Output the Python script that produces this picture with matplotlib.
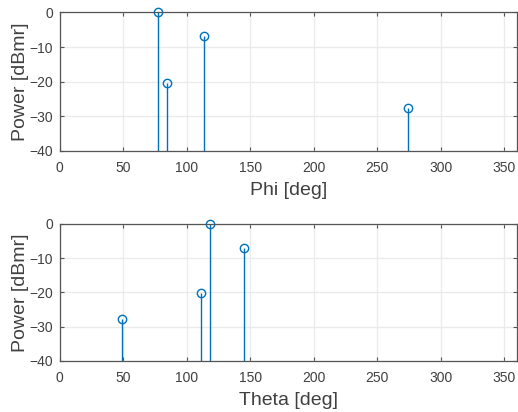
import matplotlib
matplotlib.use("Agg")
import matplotlib.pyplot as plt

plt.rcParams["font.family"] = ["Liberation Sans", "DejaVu Sans"]

# top panel: power vs phi
phi_deg = [77.5, 84.1, 113.2, 274.1]
phi_pow = [0.0, -20.3, -6.9, -27.7]
# bottom panel: power vs theta
theta_deg = [49.2, 111.6, 118.6, 144.7]
theta_pow = [-27.8, -20.3, 0.0, -7.0]

XTICKS = [0, 50, 100, 150, 200, 250, 300, 350]
YTICKS = [-40, -30, -20, -10, 0]
BLUE = "#0072BD"
TXT = "#404040"

fig = plt.figure(figsize=(5.18, 4.12), dpi=100)
ax1 = fig.add_axes([0.1153, 0.6335, 0.8827, 0.3365])
ax2 = fig.add_axes([0.1153, 0.1238, 0.8827, 0.3332])

for ax, x, y, lab in [(ax1, phi_deg, phi_pow, "Phi [deg]"),
                      (ax2, theta_deg, theta_pow, "Theta [deg]")]:
    ml, sl, bl = ax.stem(x, y, bottom=-40)
    plt.setp(sl, color=BLUE, lw=1.0)
    plt.setp(ml, color=BLUE, marker="o", markerfacecolor="none", markersize=6, mew=1.0)
    bl.set_visible(False)
    ml.set_clip_on(False)
    ax.set_xlim(0, 360)
    ax.set_ylim(-40, 0)
    ax.set_xticks(XTICKS)
    ax.set_yticks(YTICKS)
    ax.grid(True, color="#ebebeb", lw=1.0)
    ax.set_axisbelow(True)
    ax.tick_params(direction="in", top=True, right=True, length=3, width=0.8,
                   labelsize=10, colors="#555555", labelcolor=TXT)
    ax.tick_params(axis="x", pad=7)
    ax.tick_params(axis="y", pad=5)
    for sp in ax.spines.values():
        sp.set_color("#555555")
        sp.set_linewidth(0.9)
    ax.set_xlabel(lab, fontsize=14, color=TXT, labelpad=5)
    ax.set_ylabel("Power [dBmr]", fontsize=14, color=TXT, labelpad=0)

fig.savefig("out.png", dpi=100)
